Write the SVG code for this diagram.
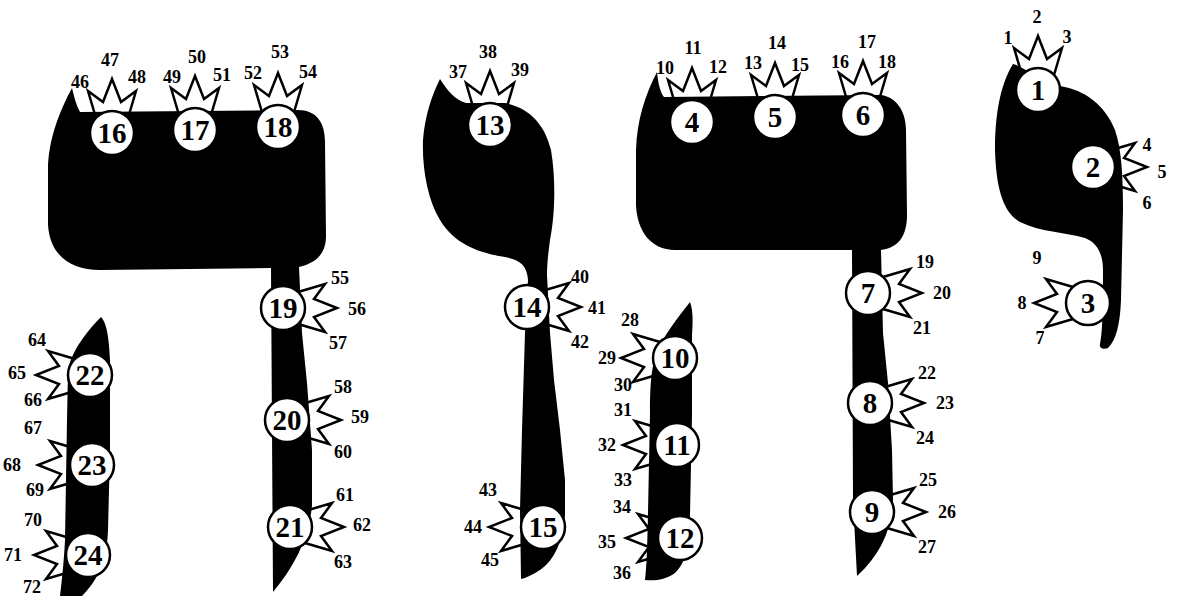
<svg xmlns="http://www.w3.org/2000/svg" xmlns:xlink="http://www.w3.org/1999/xlink" width="1177" height="596" viewBox="0 0 1177 596">
<defs>
<style>
.crown{fill:#fff;stroke:#000;stroke-width:2.5;stroke-linejoin:miter}
.shape{fill:#000;stroke:none}
.c{fill:#fff;stroke:#000;stroke-width:2.5}
.n{font-family:"Liberation Serif","Times New Roman",serif;font-weight:bold;font-size:29px;text-anchor:middle;fill:#000}
.l{font-family:"Liberation Serif","Times New Roman",serif;font-weight:bold;font-size:18px;text-anchor:middle;fill:#000}
</style>
<path id="cr" class="crown" d="M15,-16 L42,-24 L31,-9 L54,0 L31,9 L42,24 L15,16 Z"/>
</defs>
<rect width="1177" height="596" fill="#fff"/>
<g id="crowns">
<use xlink:href="#cr" transform="translate(1038,90) rotate(-90)"/>
<use xlink:href="#cr" transform="translate(1093,167)"/>
<use xlink:href="#cr" transform="translate(1088,303) rotate(180)"/>
<use xlink:href="#cr" transform="translate(692,122) rotate(-90)"/>
<use xlink:href="#cr" transform="translate(775,117) rotate(-90)"/>
<use xlink:href="#cr" transform="translate(863,115) rotate(-90)"/>
<use xlink:href="#cr" transform="translate(868,293)"/>
<use xlink:href="#cr" transform="translate(870,403)"/>
<use xlink:href="#cr" transform="translate(872,512)"/>
<use xlink:href="#cr" transform="translate(675,358) rotate(180)"/>
<use xlink:href="#cr" transform="translate(677,445) rotate(180)"/>
<use xlink:href="#cr" transform="translate(680,538) rotate(180)"/>
<use xlink:href="#cr" transform="translate(490,125) rotate(-90)"/>
<use xlink:href="#cr" transform="translate(527,307)"/>
<use xlink:href="#cr" transform="translate(543,527) rotate(180)"/>
<use xlink:href="#cr" transform="translate(112,133) rotate(-90)"/>
<use xlink:href="#cr" transform="translate(195,130) rotate(-90)"/>
<use xlink:href="#cr" transform="translate(278,127) rotate(-90)"/>
<use xlink:href="#cr" transform="translate(283,308)"/>
<use xlink:href="#cr" transform="translate(287,420)"/>
<use xlink:href="#cr" transform="translate(290,527)"/>
<use xlink:href="#cr" transform="translate(90,375) rotate(180)"/>
<use xlink:href="#cr" transform="translate(92,465) rotate(180)"/>
<use xlink:href="#cr" transform="translate(88,555) rotate(180)"/>
</g>
<g id="letters">
<path id="qof1" class="shape" d="M72,88 C74,96 76,105 80,112 L298,110 C316,110 325,122 325,142 L326,236 C326,254 316,263 299,267 L302,333 L307,383 L312,450 L312,505 C310,530 300,560 273,592 L271,268 L100,270 C70,270 50,255 48,225 L48,170 C48,140 60,110 72,88 Z"/>
<path id="leg1" class="shape" d="M101,317 C106,322 109,335 110,360 L110,450 L108,530 C107,560 98,580 82,596 L60,596 C62,580 64,560 65,540 L67,420 L68,370 C72,350 88,330 101,317 Z"/>
<path id="letter2" class="shape" d="M440,79 C447,90 455,100 466,103 L505,103 C530,108 545,125 551,150 C556,180 555,215 550,240 C548,255 547,265 547,275 L550,333 L554,380 L560,430 L565,480 L565,515 C563,540 555,560 540,570 C532,575 526,578 521,579 L520,510 L522,430 L525,333 L528,280 C527,265 520,260 505,257 C480,253 455,245 440,220 C428,200 422,170 423,140 C425,115 432,95 440,79 Z"/>
<path id="leg3" class="shape" d="M690,302 C693,310 693,320 692,335 L692,415 L690,515 C689,545 686,563 675,573 C665,580 655,581 645,580 C646,570 647,560 648,513 L650,413 C650,380 652,360 660,345 C668,330 680,315 690,302 Z"/>
<path id="qof3" class="shape" d="M657,72 C658,82 660,92 664,97 L880,95 C895,96 906,110 906,130 L907,215 C907,240 895,248 881,250 L883,333 L888,383 L892,450 L893,500 C892,530 880,555 857,576 L853,500 L852,250 L675,250 C650,250 637,230 636,205 L636,150 C637,120 645,95 657,72 Z"/>
<path id="yod" class="shape" d="M1013,64 C1020,66 1025,70 1030,72 L1060,86 C1085,90 1105,105 1115,130 C1122,150 1123,180 1123,210 L1121,300 C1120,325 1116,340 1108,348 C1103,350 1099,348 1100,344 C1103,330 1103,300 1103,270 C1103,255 1098,243 1085,238 C1065,232 1040,232 1020,222 C1002,212 996,185 995,150 C995,115 1000,85 1013,64 Z"/>
</g>
<g id="circles">
<g id="n1"><circle class="c" cx="1038" cy="90" r="22"/><text class="n" x="1038" y="100">1</text></g>
<g id="n2"><circle class="c" cx="1093" cy="167" r="22"/><text class="n" x="1093" y="177">2</text></g>
<g id="n3"><circle class="c" cx="1088" cy="303" r="22"/><text class="n" x="1088" y="313">3</text></g>
<g id="n4"><circle class="c" cx="692" cy="122" r="22"/><text class="n" x="692" y="132">4</text></g>
<g id="n5"><circle class="c" cx="775" cy="117" r="22"/><text class="n" x="775" y="127">5</text></g>
<g id="n6"><circle class="c" cx="863" cy="115" r="22"/><text class="n" x="863" y="125">6</text></g>
<g id="n7"><circle class="c" cx="868" cy="293" r="22"/><text class="n" x="868" y="303">7</text></g>
<g id="n8"><circle class="c" cx="870" cy="403" r="22"/><text class="n" x="870" y="413">8</text></g>
<g id="n9"><circle class="c" cx="872" cy="512" r="22"/><text class="n" x="872" y="522">9</text></g>
<g id="n10"><circle class="c" cx="675" cy="358" r="22"/><text class="n" x="675" y="368">10</text></g>
<g id="n11"><circle class="c" cx="677" cy="445" r="22"/><text class="n" x="677" y="455">11</text></g>
<g id="n12"><circle class="c" cx="680" cy="538" r="22"/><text class="n" x="680" y="548">12</text></g>
<g id="n13"><circle class="c" cx="490" cy="125" r="22"/><text class="n" x="490" y="135">13</text></g>
<g id="n14"><circle class="c" cx="527" cy="307" r="22"/><text class="n" x="527" y="317">14</text></g>
<g id="n15"><circle class="c" cx="543" cy="527" r="22"/><text class="n" x="543" y="537">15</text></g>
<g id="n16"><circle class="c" cx="112" cy="133" r="22"/><text class="n" x="112" y="143">16</text></g>
<g id="n17"><circle class="c" cx="195" cy="130" r="22"/><text class="n" x="195" y="140">17</text></g>
<g id="n18"><circle class="c" cx="278" cy="127" r="22"/><text class="n" x="278" y="137">18</text></g>
<g id="n19"><circle class="c" cx="283" cy="308" r="22"/><text class="n" x="283" y="318">19</text></g>
<g id="n20"><circle class="c" cx="287" cy="420" r="22"/><text class="n" x="287" y="430">20</text></g>
<g id="n21"><circle class="c" cx="290" cy="527" r="22"/><text class="n" x="290" y="537">21</text></g>
<g id="n22"><circle class="c" cx="90" cy="375" r="22"/><text class="n" x="90" y="385">22</text></g>
<g id="n23"><circle class="c" cx="92" cy="465" r="22"/><text class="n" x="92" y="475">23</text></g>
<g id="n24"><circle class="c" cx="88" cy="555" r="22"/><text class="n" x="88" y="565">24</text></g>
</g>
<g id="labels">
<text class="l" x="1008" y="44">1</text><text class="l" x="1037" y="23">2</text><text class="l" x="1067" y="43">3</text>
<text class="l" x="1147" y="151">4</text><text class="l" x="1162" y="178">5</text><text class="l" x="1147" y="209">6</text>
<text class="l" x="1040" y="344">7</text><text class="l" x="1022" y="309">8</text><text class="l" x="1037" y="264">9</text>
<text class="l" x="665" y="74">10</text><text class="l" x="693" y="54">11</text><text class="l" x="718" y="73">12</text>
<text class="l" x="753" y="69">13</text><text class="l" x="777" y="49">14</text><text class="l" x="800" y="71">15</text>
<text class="l" x="840" y="68">16</text><text class="l" x="867" y="48">17</text><text class="l" x="887" y="68">18</text>
<text class="l" x="925" y="268">19</text><text class="l" x="942" y="299">20</text><text class="l" x="922" y="334">21</text>
<text class="l" x="927" y="379">22</text><text class="l" x="945" y="409">23</text><text class="l" x="925" y="444">24</text>
<text class="l" x="928" y="486">25</text><text class="l" x="947" y="518">26</text><text class="l" x="927" y="553">27</text>
<text class="l" x="630" y="326">28</text><text class="l" x="607" y="364">29</text><text class="l" x="623" y="391">30</text>
<text class="l" x="623" y="416">31</text><text class="l" x="607" y="451">32</text><text class="l" x="623" y="486">33</text>
<text class="l" x="622" y="513">34</text><text class="l" x="607" y="548">35</text><text class="l" x="622" y="579">36</text>
<text class="l" x="458" y="78">37</text><text class="l" x="488" y="58">38</text><text class="l" x="520" y="76">39</text>
<text class="l" x="580" y="283">40</text><text class="l" x="597" y="314">41</text><text class="l" x="580" y="348">42</text>
<text class="l" x="488" y="496">43</text><text class="l" x="473" y="533">44</text><text class="l" x="490" y="566">45</text>
<text class="l" x="80" y="88">46</text><text class="l" x="110" y="66">47</text><text class="l" x="137" y="83">48</text>
<text class="l" x="172" y="83">49</text><text class="l" x="197" y="63">50</text><text class="l" x="222" y="81">51</text>
<text class="l" x="253" y="79">52</text><text class="l" x="280" y="58">53</text><text class="l" x="308" y="78">54</text>
<text class="l" x="340" y="284">55</text><text class="l" x="357" y="315">56</text><text class="l" x="338" y="349">57</text>
<text class="l" x="343" y="393">58</text><text class="l" x="360" y="423">59</text><text class="l" x="343" y="458">60</text>
<text class="l" x="345" y="501">61</text><text class="l" x="362" y="531">62</text><text class="l" x="343" y="568">63</text>
<text class="l" x="37" y="346">64</text><text class="l" x="17" y="379">65</text><text class="l" x="33" y="406">66</text>
<text class="l" x="33" y="434">67</text><text class="l" x="12" y="471">68</text><text class="l" x="35" y="496">69</text>
<text class="l" x="33" y="526">70</text><text class="l" x="13" y="561">71</text><text class="l" x="32" y="593">72</text>
</g>
</svg>
